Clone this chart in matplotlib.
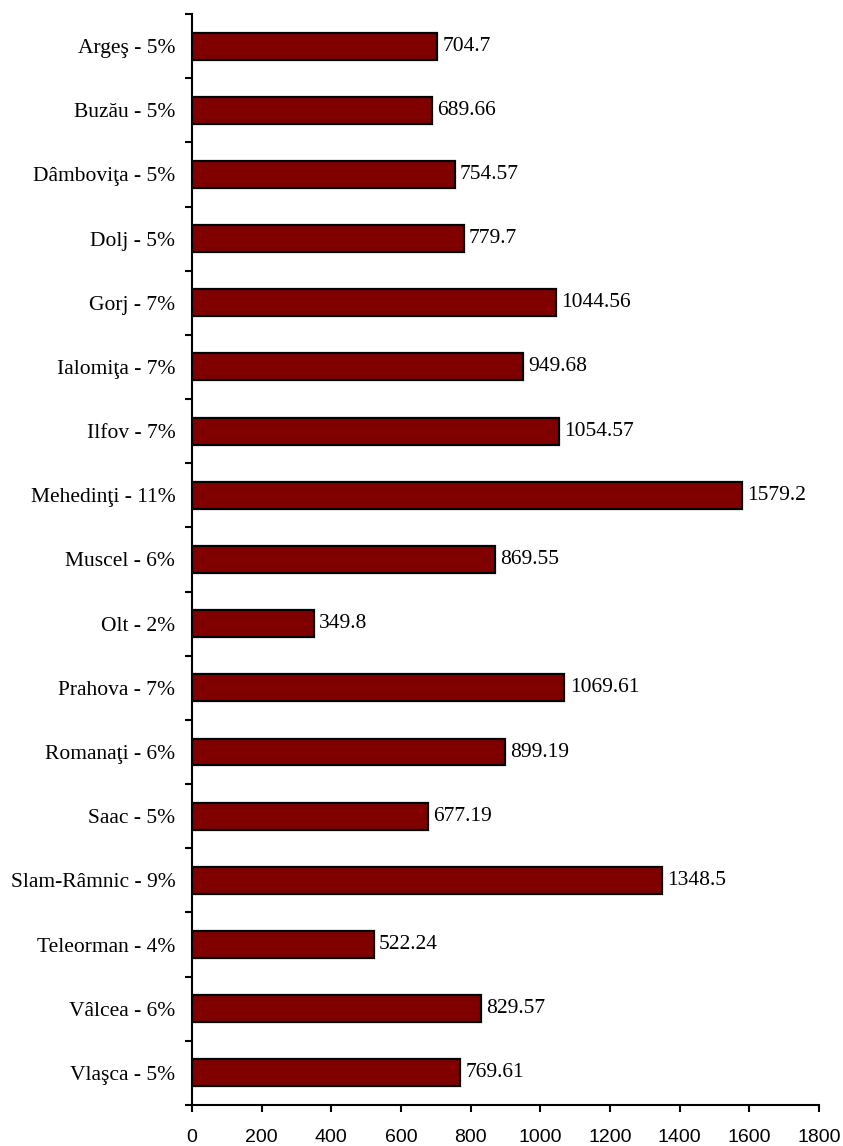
import numpy as np
import matplotlib
matplotlib.use("Agg")
import matplotlib.pyplot as plt

labels = ["Argeş - 5%", "Buzău - 5%", "Dâmboviţa - 5%", "Dolj - 5%", "Gorj - 7%",
          "Ialomiţa - 7%", "Ilfov - 7%", "Mehedinţi - 11%", "Muscel - 6%", "Olt - 2%",
          "Prahova - 7%", "Romanaţi - 6%", "Saac - 5%", "Slam-Râmnic - 9%",
          "Teleorman - 4%", "Vâlcea - 6%", "Vlaşca - 5%"]
values = [704.7, 689.66, 754.57, 779.7, 1044.56, 949.68, 1054.57, 1579.2, 869.55,
          349.8, 1069.61, 899.19, 677.19, 1348.5, 522.24, 829.57, 769.61]
value_text = ["704.7", "689.66", "754.57", "779.7", "1044.56", "949.68", "1054.57",
              "1579.2", "869.55", "349.8", "1069.61", "899.19", "677.19", "1348.5",
              "522.24", "829.57", "769.61"]
xticks = [0, 200, 400, 600, 800, 1000, 1200, 1400, 1600, 1800]

serif = "Liberation Serif"
sans = "Liberation Sans"

fig = plt.figure(figsize=(8.43, 11.46), dpi=100)
ax = fig.add_axes([0.2278, 0.0358, 0.7435, 0.952])

y = np.arange(len(labels))
ax.barh(y, values, height=0.42, color="#800000", edgecolor="black", linewidth=1.6)

for yi, v, t in zip(y, values, value_text):
    ax.text(v + 15, yi, t, va="center", ha="left", fontsize=15.5, family=serif)

ax.set_ylim(len(labels) - 0.5, -0.5)
ax.set_xlim(0, 1800)

ax.set_yticks(y)
ax.set_yticklabels(labels, fontsize=15.5, family=serif)
ax.tick_params(axis="y", which="major", length=0, pad=12)
ax.set_yticks(np.arange(-0.5, len(labels)), minor=True)
ax.tick_params(axis="y", which="minor", length=5, width=1.5, direction="out")

ax.set_xticks(xticks)
ax.set_xticklabels([str(t) for t in xticks], fontsize=14, family=sans)
ax.tick_params(axis="x", length=5, width=1.5, direction="out", pad=12)

for s in ["top", "right"]:
    ax.spines[s].set_visible(False)
for s in ["left", "bottom"]:
    ax.spines[s].set_linewidth(1.5)

fig.savefig("out.png", dpi=100)
